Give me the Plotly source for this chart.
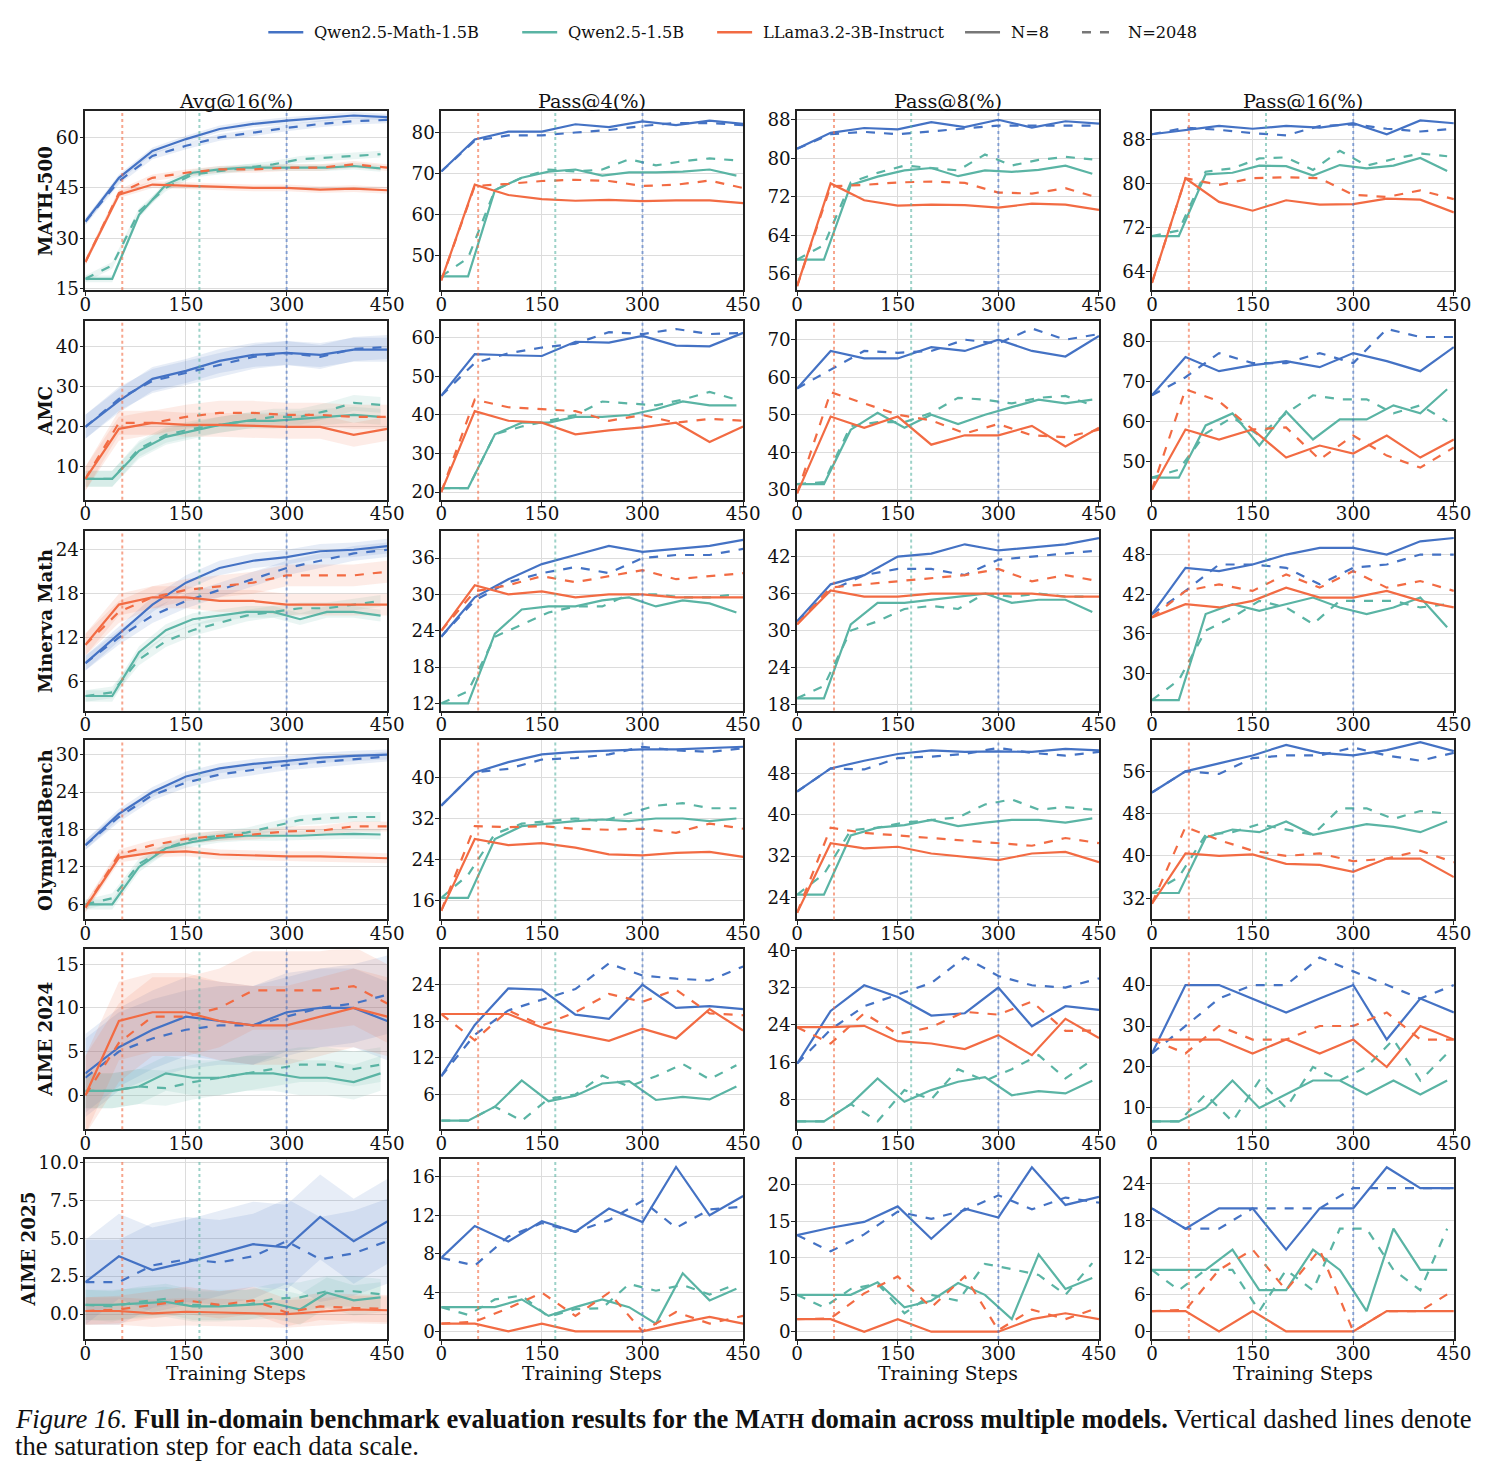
import plotly.graph_objects as go

# ---------------- data ----------------
STEPS_QM = [0, 50, 100, 150, 200, 250, 300, 350, 400, 450]      # Qwen2.5-Math-1.5B
STEPS_LL = [0, 50, 100, 150, 200, 250, 300, 350, 400, 450]      # LLama3.2-3B-Instruct
STEPS_QW = [0, 40, 80, 120, 160, 200, 240, 280, 320, 360, 400, 440]  # Qwen2.5-1.5B
SAT_STEP = {"ll": 55, "qw": 170, "qm": 300}

MODELS = ["Qwen2.5-Math-1.5B", "Qwen2.5-1.5B", "LLama3.2-3B-Instruct"]
ROWS = ["MATH-500", "AMC", "Minerva Math", "OlympiadBench", "AIME 2024", "AIME 2025"]
COLS = ["Avg@16(%)", "Pass@4(%)", "Pass@8(%)", "Pass@16(%)"]

# ---- MATH-500
MATH500_AVG = dict(
    qm8=[35, 48, 56, 59.5, 62.5, 64, 65, 65.7, 66.5, 66],
    qm2048=[35, 47, 54.5, 57.5, 60, 61.5, 62.8, 64, 64.8, 65.2],
    ll8=[23, 43, 46, 45.6, 45.4, 45, 45, 44.5, 44.8, 44.3],
    ll2048=[23, 43.5, 48, 49.5, 50.5, 50.5, 51, 51, 52, 51],
    qw8=[18, 18, 37, 46, 49.5, 50.5, 51, 51, 51, 51, 51.5, 50.8],
    qw2048=[18, 22, 38, 45, 49, 50, 51, 52, 53.5, 54, 54.5, 55])
MATH500_P4 = dict(
    qm8=[70.5, 78.3, 80.2, 80.2, 82, 81.3, 82.7, 81.8, 82.9, 82.1],
    qm2048=[70.5, 78, 79.3, 79.3, 80, 80.6, 81.6, 82.3, 82.3, 81.8],
    ll8=[44, 67.3, 64.8, 63.8, 63.4, 63.6, 63.3, 63.5, 63.5, 62.8],
    ll2048=[44, 67, 67.5, 68.2, 68.5, 68.2, 67, 67.3, 68.3, 66.5],
    qw8=[45, 45, 66, 69, 70.5, 71, 69.5, 70.3, 70.3, 70.5, 71, 69.5],
    qw2048=[45, 49.5, 66, 69, 71, 70.5, 71, 73.5, 72, 73, 73.7, 73.2])
MATH500_P8 = dict(
    qm8=[82, 85.3, 86.3, 86, 87.5, 86.5, 88, 86.4, 87.7, 87.2],
    qm2048=[82, 85, 85.5, 85, 85.6, 86.2, 86.8, 86.8, 86.8, 86.8],
    ll8=[53.5, 74.8, 71.3, 70.2, 70.4, 70.3, 69.8, 70.6, 70.4, 69.3],
    ll2048=[53.5, 74.2, 74.5, 75, 75.2, 74.9, 72.9, 72.7, 73.8, 71.8],
    qw8=[59, 59, 74.5, 76.2, 77.5, 78, 76.3, 77.5, 77.2, 77.6, 78.5, 76.8],
    qw2048=[59, 62, 75, 77, 78.5, 78, 77.5, 80.8, 78.5, 79.7, 80.3, 79.8])
MATH500_P16 = dict(
    qm8=[89, 89.7, 90.5, 90, 90.5, 90.2, 91, 89, 91.5, 91],
    qm2048=[89, 90.2, 89.8, 89.2, 88.8, 90.5, 90.8, 90, 89.5, 90],
    ll8=[62, 81, 76.7, 75.1, 77, 76.2, 76.3, 77.3, 77.1, 74.8],
    ll2048=[62, 81, 79.8, 81, 81.2, 81, 78, 77.6, 78.8, 77.2],
    qw8=[70.5, 70.5, 81.7, 82, 83.3, 83.2, 81.5, 83.4, 82.8, 83.3, 84.7, 82.3],
    qw2048=[70.5, 71.5, 82.2, 82.8, 84.6, 84.8, 82.5, 86, 83.3, 84.5, 85.5, 85])

# ---- AMC
AMC_AVG = dict(
    qm8=[20, 26.5, 32, 34, 36.5, 38, 38.5, 38, 39.3, 39.3],
    qm2048=[20, 27, 31.5, 33.5, 35.5, 37.5, 38.5, 37.5, 39.5, 40],
    ll8=[7, 19.5, 21, 20.5, 20.5, 20.2, 20, 20, 18, 19.5],
    ll2048=[7, 21, 21, 22.5, 23.5, 23.5, 23, 23, 22.5, 22.5],
    qw8=[7, 7, 14, 17.5, 19, 20.5, 21.5, 21.5, 22, 22.5, 23, 22.5],
    qw2048=[7, 7, 14.5, 18, 19.5, 20.5, 21.5, 22.5, 22.5, 24, 26, 25.5])
AMC_P4 = dict(
    qm8=[45, 55.8, 55.5, 55.3, 59, 58.8, 60.5, 58, 57.8, 61.3],
    qm2048=[45, 53.5, 56, 57.5, 58.5, 61.5, 61, 62.3, 61, 61.3],
    ll8=[20, 41, 38.5, 38, 35, 36, 36.8, 38, 33, 37],
    ll2048=[20, 44, 42, 41.5, 41, 38.5, 40, 38, 39, 38.5],
    qw8=[21, 21, 35, 38, 38, 39.5, 39.5, 40, 41.5, 43.5, 42.5, 42.5],
    qw2048=[21, 21, 35, 37, 38.5, 40, 43.5, 43, 42.5, 44, 46, 44])
AMC_P8 = dict(
    qm8=[57, 67, 65, 65, 68, 67, 70, 67, 65.5, 71],
    qm2048=[57, 62, 67, 66.5, 67, 70, 69, 73, 70, 71.5],
    ll8=[29, 49.5, 46.5, 49.5, 42, 44.5, 44.5, 47, 41.5, 46.5],
    ll2048=[29, 56, 53, 50, 48.5, 45, 47.5, 44.5, 44, 46],
    qw8=[31.5, 31.5, 46, 50.5, 46.5, 50, 47.5, 50, 52, 54, 53, 54],
    qw2048=[31.5, 32, 47, 48, 48, 50.5, 54.5, 54, 53, 54.5, 55, 52.5])
AMC_P16 = dict(
    qm8=[66.5, 76, 72.5, 74, 75, 73.5, 77, 75, 72.5, 78.5],
    qm2048=[66.5, 71, 77, 74.5, 74.5, 77, 74.5, 83, 81, 81],
    ll8=[43, 58, 55.5, 58, 51, 54, 52, 56.5, 51, 55.5],
    ll2048=[43, 68, 65, 58, 58.5, 50.5, 56.5, 51.5, 48.5, 53.5],
    qw8=[46, 46, 59, 62, 54, 62.5, 55.5, 60.5, 60.5, 64, 62, 68],
    qw2048=[46, 48, 57, 61, 56.5, 62, 66.5, 65.5, 65.5, 62, 64, 60])

# ---- Minerva Math
MINERVA_AVG = dict(
    qm8=[8.5, 12.5, 16.5, 19.5, 21.5, 22.5, 23, 23.8, 24, 24.5],
    qm2048=[8.5, 12, 15, 17, 18.5, 20, 21.5, 22.5, 23.5, 24],
    ll8=[11, 16.5, 17.5, 17.5, 17, 17, 16.5, 16.5, 16.5, 16.5],
    ll2048=[11, 15.5, 17.5, 18.5, 19, 19.5, 20.5, 20.5, 20.5, 21],
    qw8=[4, 4, 10, 13, 14.5, 15, 15.5, 15.5, 14.5, 15.5, 15.5, 15],
    qw2048=[4, 4.5, 9, 11.5, 13, 14, 15, 15.5, 16, 16, 16.5, 17])
MINERVA_P4 = dict(
    qm8=[23, 29.5, 32.5, 35, 36.5, 38, 37, 37.5, 38, 39],
    qm2048=[23, 29, 32, 33.5, 34.5, 33.5, 36, 36.5, 36.5, 37.5],
    ll8=[24, 31.5, 30, 30.5, 29.5, 30, 30, 29.5, 29.5, 29.5],
    ll2048=[24, 30.5, 31.5, 33, 32, 33, 34, 32.5, 33, 33.5],
    qw8=[12, 12, 23.5, 27.5, 28, 28, 29, 29.5, 28, 29, 28.5, 27],
    qw2048=[12, 14, 23, 25, 27, 28, 28, 30, 30, 29.5, 29.5, 30])
MINERVA_P8 = dict(
    qm8=[31.5, 37.5, 39, 42, 42.5, 44, 43, 43.5, 44, 45],
    qm2048=[31.5, 36.5, 39, 40, 40, 39, 41.5, 42, 42.5, 43],
    ll8=[31, 36.5, 35.5, 35.5, 36, 36, 36, 36, 35.5, 35.5],
    ll2048=[31, 37, 37.5, 38, 38.5, 39, 40, 38, 39, 38],
    qw8=[19, 19, 31, 34.5, 34.5, 35, 35.5, 36, 34.5, 35, 35, 33],
    qw2048=[19, 21, 30, 31.5, 33.5, 34, 33.5, 36, 35.5, 36, 35.5, 35.5])
MINERVA_P16 = dict(
    qm8=[39, 46, 45.5, 46.5, 48, 49, 49, 48, 50, 50.5],
    qm2048=[39, 42.5, 46.5, 46.5, 46, 43.5, 46, 46.5, 48, 48],
    ll8=[38.5, 40.5, 40, 41, 43, 41.5, 41.5, 42.5, 41, 40],
    ll2048=[38.5, 42.5, 43.5, 42.5, 45, 43, 45.5, 43, 44, 42.5],
    qw8=[26, 26, 39, 40.5, 39.5, 40.5, 41.5, 40, 39, 40, 41.5, 37],
    qw2048=[26, 29, 36.5, 38.5, 41, 40, 37.5, 41, 41, 41, 40, 40.5])

# ---- OlympiadBench
OLYMP_AVG = dict(
    qm8=[15.5, 20.5, 24, 26.5, 27.8, 28.5, 29, 29.5, 29.8, 30],
    qm2048=[15.5, 20, 23.5, 25.5, 26.8, 27.5, 28.3, 28.8, 29.2, 29.7],
    ll8=[5.5, 13.5, 14.3, 14.5, 14, 13.8, 13.7, 13.7, 13.5, 13.4],
    ll2048=[5.5, 14, 15.5, 16.5, 17, 17.2, 17.7, 17.8, 18.5, 18.5],
    qw8=[6, 6, 12, 15, 16, 16.7, 17, 17, 17, 17.2, 17.3, 17.2],
    qw2048=[6, 7, 12.5, 15, 16.5, 17, 17.5, 18.5, 19.5, 19.8, 20, 20])
OLYMP_P4 = dict(
    qm8=[34.5, 41, 43, 44.5, 45, 45.2, 45.5, 45.5, 45.8, 46],
    qm2048=[34.5, 41, 41.7, 43.5, 43.8, 44.5, 46, 45.3, 45, 45.7],
    ll8=[14, 28, 26.8, 27.2, 26.3, 25, 24.8, 25.3, 25.5, 24.5],
    ll2048=[14, 30.5, 30.3, 30.5, 30, 29.8, 30, 29.2, 31, 30],
    qw8=[16.5, 16.5, 28, 30.5, 31, 31.5, 31.8, 31.5, 32, 32, 31.5, 32],
    qw2048=[16.5, 21, 29, 31, 31.5, 32, 31.5, 33, 34.5, 35, 34, 34])
OLYMP_P8 = dict(
    qm8=[44.5, 49, 50.5, 51.8, 52.5, 52.2, 52.3, 52.2, 52.8, 52.5],
    qm2048=[44.5, 49, 48.8, 51, 51.3, 51.8, 53, 52, 51.5, 52.2],
    ll8=[21, 34.5, 33.5, 33.8, 32.5, 31.8, 31.2, 32.5, 32.8, 30.8],
    ll2048=[21, 37.5, 36.5, 36, 35.5, 35, 34.5, 34, 35.5, 34.5],
    qw8=[24.5, 24.5, 36, 37.5, 38, 39, 37.8, 38.5, 39, 39, 38.5, 39.3],
    qw2048=[24.5, 28.5, 37, 37.5, 38.5, 39, 39.5, 42, 43, 41, 41.5, 41])
OLYMP_P16 = dict(
    qm8=[52, 56, 57.5, 59, 61, 59.5, 59, 60, 61.5, 59.8],
    qm2048=[52, 56, 55.5, 58.5, 59, 59, 60.5, 59, 58, 59.5],
    ll8=[31, 40.5, 40, 40.3, 38.5, 38.3, 37, 39.5, 39.5, 36],
    ll2048=[31, 45.5, 43, 41, 40, 40.5, 39, 39.5, 41, 38.8],
    qw8=[33, 33, 43.5, 45, 44.5, 46.5, 44, 45, 46, 45.5, 44.5, 46.5],
    qw2048=[33, 36, 44, 44.5, 46, 45, 44, 49, 49, 47, 48.5, 48])

# ---- AIME 2024
AIME24_AVG = dict(
    qm8=[2.5, 5.5, 7.5, 9, 8.5, 8, 9.5, 10, 10, 8.5],
    qm2048=[2, 5, 6.5, 7.5, 8, 8, 9, 10, 10.5, 11.5],
    ll8=[0, 8.5, 9.5, 9.5, 8.5, 8, 8, 9, 10, 9],
    ll2048=[0, 6, 9, 9, 10, 12, 12, 12, 12.5, 10.5],
    qw8=[0.5, 0.5, 1, 2.5, 2, 2, 2.5, 2.5, 2, 2, 1.5, 2.5],
    qw2048=[0.5, 0.5, 1, 0.8, 1.5, 2, 2.5, 3, 3.5, 3.5, 3, 3.5])
AIME24_P4 = dict(
    qm8=[9, 17.4, 23.4, 23.2, 19.1, 18.4, 24, 20.2, 20.5, 20],
    qm2048=[9, 15.8, 19.8, 21.5, 23.3, 27.5, 25.5, 25, 24.7, 27],
    ll8=[19.2, 19.2, 19.2, 17, 15.9, 14.8, 16.8, 15.2, 20, 16.5],
    ll2048=[19.2, 14.9, 19.8, 17.3, 19.5, 22.5, 21.2, 23.2, 19.3, 19],
    qw8=[1.7, 1.7, 4, 8.3, 4.9, 5.8, 7.8, 8.2, 5.1, 5.6, 5.2, 7.3],
    qw2048=[1.7, 1.7, 4, 1.7, 5.3, 6, 9.1, 7.3, 9, 11, 8.5, 10.8])
AIME24_P8 = dict(
    qm8=[15.7, 27, 32.5, 30, 26, 26.5, 32, 23.7, 28, 27.2],
    qm2048=[15.7, 23, 28, 30.5, 33, 38.5, 34.5, 32.5, 32, 34],
    ll8=[23.5, 23.5, 23.8, 20.5, 20, 18.8, 21.8, 17.5, 25.3, 21.2],
    ll2048=[23.5, 20, 26.5, 22, 23.5, 26.8, 26.2, 29, 22.7, 22.8],
    qw8=[3.3, 3.3, 7, 12.5, 7.5, 10, 11.8, 12.8, 8.9, 9.8, 9.3, 12],
    qw2048=[3.3, 3.3, 7, 3.3, 10, 8, 14.5, 12, 14.5, 17.5, 12.5, 16.5])
AIME24_P16 = dict(
    qm8=[23.3, 40, 40, 36.7, 33.3, 36.7, 40, 26.7, 36.7, 33.3],
    qm2048=[23.3, 30, 36.7, 40, 40, 46.7, 43.3, 40, 36.7, 40],
    ll8=[26.7, 26.7, 26.7, 23.3, 26.7, 23.3, 26.7, 20, 30, 26.7],
    ll2048=[26.7, 23.3, 30, 26.7, 26.7, 30, 30, 33.3, 26.7, 26.7],
    qw8=[6.7, 6.7, 10, 16.7, 10, 13.3, 16.7, 16.7, 13.3, 16.7, 13.3, 16.7],
    qw2048=[6.7, 6.7, 13.3, 6.7, 16.7, 10, 20, 16.7, 20, 26.7, 16.7, 23.3])

# ---- AIME 2025
AIME25_AVG = dict(
    qm8=[2.1, 3.8, 2.9, 3.4, 4.0, 4.6, 4.4, 6.4, 4.8, 6.1],
    qm2048=[2.1, 2.1, 3.2, 3.6, 3.4, 3.8, 4.8, 3.6, 4.0, 4.8],
    ll8=[0.2, 0.2, 0.05, 0.15, 0.1, 0.05, 0, 0.15, 0.3, 0.25],
    ll2048=[0.2, 0.3, 0.6, 0.9, 0.6, 0.9, 0.1, 0.5, 0.4, 0.35],
    qw8=[0.6, 0.6, 0.7, 0.8, 0.5, 0.5, 0.6, 0.7, 0.3, 1.4, 0.9, 1.1],
    qw2048=[0.6, 0.5, 0.8, 1.0, 0.6, 0.6, 0.6, 1.0, 1.1, 1.5, 1.5, 1.3])
AIME25_P4 = dict(
    qm8=[7.6, 10.9, 9.3, 11.4, 10.3, 12.7, 11.3, 17, 12, 14],
    qm2048=[7.6, 6.8, 9.8, 11.2, 10.3, 11.5, 13.5, 10.7, 12.6, 12.9],
    ll8=[0.8, 0.8, 0, 0.8, 0, 0, 0, 0.8, 1.5, 0.8],
    ll2048=[0.8, 1.0, 2.4, 4.0, 1.6, 4.0, 0, 2.0, 0.8, 1.6],
    qw8=[2.5, 2.5, 2.5, 3.3, 1.6, 2.5, 3.3, 2.5, 0.8, 6, 3.2, 4.4],
    qw2048=[2.5, 1.7, 3.3, 3.7, 1.5, 2.3, 2.4, 4.9, 4.2, 4.8, 3.8, 4.9])
AIME25_P8 = dict(
    qm8=[13.1, 14.1, 14.9, 17, 12.6, 16.7, 15.5, 22.3, 17.2, 18.3],
    qm2048=[13.1, 10.9, 13.2, 16.3, 15.3, 16.5, 18.5, 16.6, 18.2, 17.5],
    ll8=[1.7, 1.7, 0, 1.7, 0, 0, 0, 1.7, 2.5, 1.7],
    ll2048=[1.7, 1.8, 5.2, 7.5, 3.3, 7.5, 0.2, 3.0, 1.7, 3.3],
    qw8=[5, 5, 5, 6.7, 3.3, 4.2, 6.6, 5, 1.7, 10.5, 5.8, 7.3],
    qw2048=[5, 3.3, 5.8, 6.5, 2.5, 5, 4.2, 9.2, 8.5, 7.7, 5, 9.3])
AIME25_P16 = dict(
    qm8=[20, 16.7, 20, 20, 13.3, 20, 20, 26.7, 23.3, 23.3],
    qm2048=[20, 16.7, 16.7, 20, 20, 20, 23.3, 23.3, 23.3, 23.3],
    ll8=[3.3, 3.3, 0, 3.3, 0, 0, 0, 3.3, 3.3, 3.3],
    ll2048=[3.3, 3.5, 10, 13.3, 6.7, 13.3, 0, 3.3, 3.3, 6.7],
    qw8=[10, 10, 10, 13.3, 6.7, 6.7, 13.3, 10, 3.3, 16.7, 10, 10],
    qw2048=[10, 6.7, 10, 10, 3.3, 10, 6.7, 16.7, 16.7, 10, 6.7, 16.7])

# std of Avg@16 (shaded bands), per benchmark: (qm, qw, ll)
AVG_STD = {
    "MATH-500": (1.0, 1.0, 1.0),
    "AMC": (3.0, 2.0, 3.0),
    "Minerva Math": (1.0, 0.8, 1.5),
    "OlympiadBench": (0.8, 0.8, 0.8),
    "AIME 2024": (4.5, 2.0, 4.5),
    "AIME 2025": (2.8, 1.0, 0.9),
}

PANELS = [
    [MATH500_AVG, MATH500_P4, MATH500_P8, MATH500_P16],
    [AMC_AVG, AMC_P4, AMC_P8, AMC_P16],
    [MINERVA_AVG, MINERVA_P4, MINERVA_P8, MINERVA_P16],
    [OLYMP_AVG, OLYMP_P4, OLYMP_P8, OLYMP_P16],
    [AIME24_AVG, AIME24_P4, AIME24_P8, AIME24_P16],
    [AIME25_AVG, AIME25_P4, AIME25_P8, AIME25_P16],
]
Y_RANGES = [
    [(14.7, 67.8), (41.7, 85.2), (52.7, 89.8), (60.7, 93.2)],
    [(1.75, 46.5), (18, 64.4), (27.3, 75), (40.5, 85)],
    [(2, 26.6), (10.8, 40.5), (17, 46.2), (24.4, 51.6)],
    [(3.6, 32.4), (12.3, 47.4), (19.7, 54.6), (28, 62)],
    [(-3.9, 16.7), (0.3, 29.8), (1.6, 40.2), (4.8, 48.7)],
    [(-1.65, 10.2), (-0.8, 17.8), (-1, 23.4), (-1.25, 28)],
]
Y_TICKS = [
    [[15, 30, 45, 60], [50, 60, 70, 80], [56, 64, 72, 80, 88], [64, 72, 80, 88]],
    [[10, 20, 30, 40], [20, 30, 40, 50, 60], [30, 40, 50, 60, 70], [50, 60, 70, 80]],
    [[6, 12, 18, 24], [12, 18, 24, 30, 36], [18, 24, 30, 36, 42], [30, 36, 42, 48]],
    [[6, 12, 18, 24, 30], [16, 24, 32, 40], [24, 32, 40, 48], [32, 40, 48, 56]],
    [[0, 5, 10, 15], [6, 12, 18, 24], [8, 16, 24, 32, 40], [10, 20, 30, 40]],
    [[0, 2.5, 5, 7.5, 10], [0, 4, 8, 12, 16], [0, 5, 10, 15, 20], [0, 6, 12, 18, 24]],
]
Y_TICKTEXT_AIME25 = ["0.0", "2.5", "5.0", "7.5", "10.0"]
X_TICKS = [0, 150, 300, 450]

# ---------------- style / page geometry ----------------
W, H = 1496, 1480
# measured mapping between layout pixels and the photographed page
SX, AX = 0.985, 5.6
SY, AY = 0.988, 9.8
FS = 1.014          # font compensation for that mapping

C_QM = "#4472c4"
C_QW = "#5ab4a4"
C_LL = "#f26b43"
COL_PX = [(85, 387), (441, 743), (797, 1099), (1152, 1454)]      # target screen px
ROW_PX = [(111, 290), (321, 500), (531, 711), (740, 920), (950, 1130), (1160, 1340)]
ROW_LABEL_X = [45, 45, 45, 45, 45, 28]
SERIF = "DejaVu Serif"

# legend layout (target screen px)
LEG_Y = 32
LEG_LINE_X = [268, 522, 717, 965, 1082]
LEG_TEXT_X = [315, 569, 764, 1012, 1129]


def px(x):
    return ((x - AX) / SX) / W


def py(y):
    return 1 - ((y - AY) / SY) / H


def rgba(hexc, a):
    h = hexc.lstrip("#")
    return "rgba(%d,%d,%d,%.2f)" % (int(h[0:2], 16), int(h[2:4], 16), int(h[4:6], 16), a)


fig = go.Figure()
shapes = []
annotations = []

series_def = [
    ("qm", STEPS_QM, C_QM),
    ("qw", STEPS_QW, C_QW),
    ("ll", STEPS_LL, C_LL),
]
TICKFONT = dict(family=SERIF, size=18 * FS, color="#111")

for r in range(6):
    for c in range(4):
        n = r * 4 + c + 1
        xa = "x" if n == 1 else "x%d" % n
        ya = "y" if n == 1 else "y%d" % n
        xk = "xaxis" if n == 1 else "xaxis%d" % n
        yk = "yaxis" if n == 1 else "yaxis%d" % n
        x0, x1 = COL_PX[c]
        t0, t1 = ROW_PX[r]
        fig.layout[xk] = dict(
            domain=[px(x0), px(x1)], anchor=ya, range=[0, 450],
            tickvals=X_TICKS, ticks="outside", ticklen=4, tickwidth=1.2,
            ticklabelstandoff=-7,
            tickcolor="#222", showline=True, linecolor="#222", linewidth=1.6,
            mirror=True, showgrid=True, gridcolor="#dcdcdc", gridwidth=1,
            zeroline=False, tickfont=TICKFONT)
        ylo, yhi = Y_RANGES[r][c]
        ydict = dict(
            domain=[py(t1), py(t0)], anchor=xa, range=[ylo, yhi],
            tickvals=Y_TICKS[r][c], ticks="outside", ticklen=4, tickwidth=1.2,
            ticklabelstandoff=-3,
            tickcolor="#222", showline=True, linecolor="#222", linewidth=1.6,
            mirror=True, showgrid=True, gridcolor="#dcdcdc", gridwidth=1,
            zeroline=False, tickfont=TICKFONT)
        if r == 5 and c == 0:
            ydict["ticktext"] = Y_TICKTEXT_AIME25
        fig.layout[yk] = ydict

        data = PANELS[r][c]
        # bands for Avg@16
        if c == 0:
            stds = AVG_STD[ROWS[r]]
            for (key, xs, col), sd in zip(series_def, stds):
                for suf in ("8", "2048"):
                    ys = data[key + suf]
                    xx = xs[:len(ys)]
                    up = [v + sd for v in ys]
                    lo = [v - sd for v in ys]
                    fig.add_trace(go.Scatter(
                        x=list(xx) + list(xx)[::-1], y=up + lo[::-1],
                        fill="toself", fillcolor=rgba(col, 0.13),
                        line=dict(width=0), mode="lines", hoverinfo="skip",
                        showlegend=False, xaxis=xa, yaxis=ya))
        # vertical saturation lines
        for key, col in (("ll", C_LL), ("qw", C_QW), ("qm", C_QM)):
            shapes.append(dict(
                type="line", xref=xa, yref=ya + " domain",
                x0=SAT_STEP[key], x1=SAT_STEP[key], y0=0, y1=1,
                line=dict(color=rgba(col, 0.6), width=2, dash="dot"),
                layer="above"))
        # lines
        for key, xs, col in series_def:
            for suf, dash in (("8", "solid"), ("2048", "dash")):
                ys = data[key + suf]
                fig.add_trace(go.Scatter(
                    x=xs[:len(ys)], y=ys, mode="lines",
                    line=dict(color=col, width=2.2, dash=dash),
                    showlegend=False, hoverinfo="skip",
                    xaxis=xa, yaxis=ya))

# legend (drawn as line samples + text)
LEG_NAMES = MODELS + ["N=8", "N=2048"]
LEG_COLORS = [C_QM, C_QW, C_LL, "#777777", "#777777"]
LEG_DASH = ["solid", "solid", "solid", "solid", "dash"]
for name, col, dash, lx, tx in zip(LEG_NAMES, LEG_COLORS, LEG_DASH, LEG_LINE_X, LEG_TEXT_X):
    shapes.append(dict(type="line", xref="paper", yref="paper",
                       x0=px(lx), x1=px(lx + 35), y0=py(LEG_Y), y1=py(LEG_Y),
                       line=dict(color=col, width=2.5, dash=dash)))
    annotations.append(dict(text=name, x=px(tx - 3), y=py(LEG_Y), xref="paper",
                            yref="paper", showarrow=False, xanchor="left",
                            yanchor="middle",
                            font=dict(family=SERIF, size=16 * FS, color="#111")))

# column titles
for c, t in enumerate(COLS):
    x0, x1 = COL_PX[c]
    annotations.append(dict(
        text=t, x=px((x0 + x1) / 2), y=py(101), xref="paper", yref="paper",
        showarrow=False, font=dict(family=SERIF, size=19 * FS, color="#111"),
        xanchor="center", yanchor="middle"))
# row labels
for r, t in enumerate(ROWS):
    t0, t1 = ROW_PX[r]
    annotations.append(dict(
        text="<b>%s</b>" % t, x=px(ROW_LABEL_X[r]), y=py((t0 + t1) / 2),
        xref="paper", yref="paper", showarrow=False, textangle=-90,
        font=dict(family=SERIF, size=18 * FS, color="#111"),
        xanchor="center", yanchor="middle"))
# x-axis titles
for c in range(4):
    x0, x1 = COL_PX[c]
    annotations.append(dict(
        text="Training Steps", x=px((x0 + x1) / 2), y=py(1374),
        xref="paper", yref="paper", showarrow=False,
        font=dict(family=SERIF, size=18.5 * FS, color="#111"),
        xanchor="center", yanchor="middle"))
# caption (two lines)
caption1 = ("<i>Figure 16.</i> <b>Full in-domain benchmark evaluation results for the "
            "M<span style='font-size:21px'>ATH</span> domain across multiple models.</b> "
            "Vertical dashed lines denote")
caption2 = "the saturation step for each data scale."
for txt, yy in ((caption1, 1420), (caption2, 1447)):
    annotations.append(dict(
        text=txt, x=px(13), y=py(yy), xref="paper", yref="paper",
        showarrow=False, align="left", xanchor="left", yanchor="middle",
        font=dict(family="Liberation Serif", size=26.6, color="#111")))

fig.update_layout(
    width=W, height=H, margin=dict(l=0, r=0, t=0, b=0),
    paper_bgcolor="white", plot_bgcolor="white",
    shapes=shapes, annotations=annotations, showlegend=False,
)

fig.write_html("out.html")
